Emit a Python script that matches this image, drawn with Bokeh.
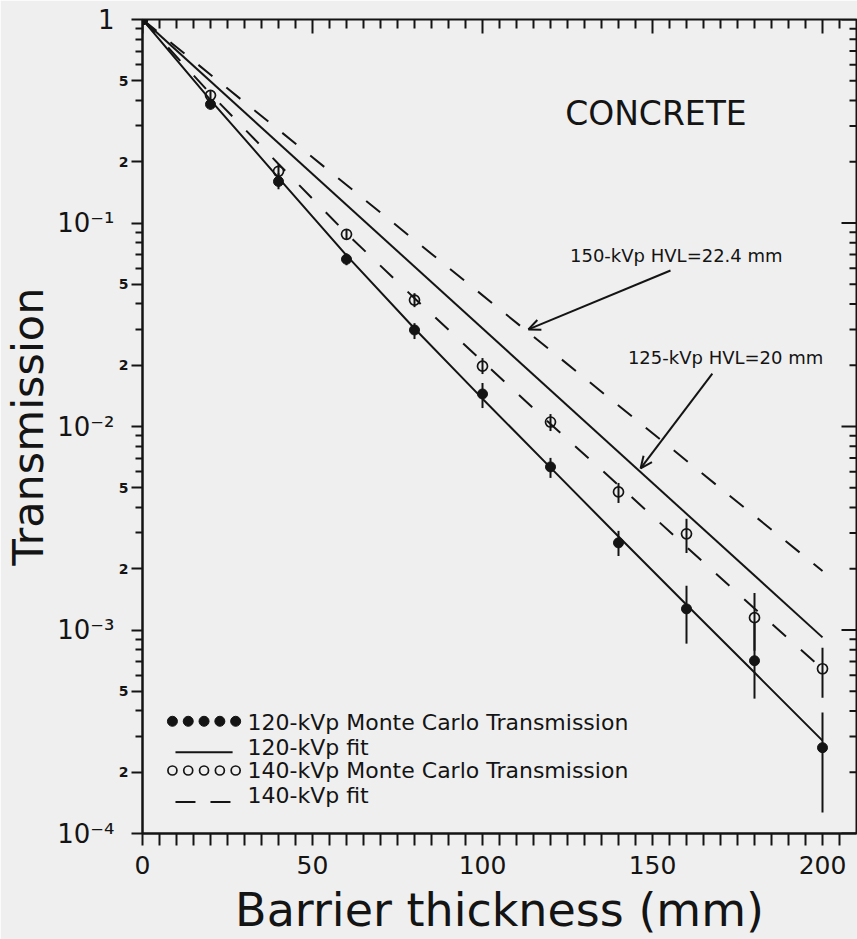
import math
from bokeh.plotting import figure
from bokeh.models import LogAxis, FixedTicker, Range1d
from bokeh.core.properties import value
from bokeh.embed import file_html
from bokeh.resources import INLINE

# ---------------- data ----------------
thickness = [0, 20, 40, 60, 80, 100, 120, 140, 160, 180, 200]

mc120 = [1.0, 0.383, 0.160, 0.0664, 0.0298, 0.01445, 0.00633, 0.00268, 0.00127, 0.000706, 0.000264]
mc120_lo = [1.0, 0.3617, 0.1464, 0.0620, 0.0269, 0.01232, 0.00559, 0.00231, 0.000857, 0.00046, 0.000127]
mc120_hi = [1.0, 0.405, 0.1754, 0.0710, 0.0322, 0.01636, 0.00701, 0.00307, 0.00165, 0.001086, 0.000393]

mc140 = [1.0, 0.424, 0.1795, 0.088, 0.0418, 0.0198, 0.01052, 0.00477, 0.00297, 0.00115, 0.000645]
mc140_lo = [1.0, 0.4005, 0.1677, 0.0832, 0.0386, 0.0181, 0.0095, 0.00421, 0.00239, 0.000791, 0.000465]
mc140_hi = [1.0, 0.448, 0.1942, 0.0932, 0.0452, 0.02169, 0.01151, 0.00528, 0.00352, 0.00152, 0.000818]

fit_x = [0, 20, 40, 60, 80, 100, 120, 140, 160, 180, 200]
fit120 = [1.0, 0.402, 0.1667, 0.0693, 0.0303, 0.0137, 0.00628, 0.00288, 0.00133, 0.000618, 0.000286]
fit140 = [1.0, 0.4315, 0.195, 0.0889, 0.0427, 0.0209, 0.01028, 0.00515, 0.00256, 0.001276, 0.000643]

hvl_x = [0, 200]
hvl125 = [1.0, 0.00092]     # 125-kVp HVL=20 mm
hvl150 = [1.0, 0.00195]     # 150-kVp HVL=22.4 mm

x_major_ticks = [0, 50, 100, 150, 200]
x_major_labels = ["0", "50", "100", "150", "200"]
x_minor_ticks = [5, 10, 15, 20, 25, 30, 35, 40, 45, 55, 60, 65, 70, 75, 80, 85, 90, 95,
                 105, 110, 115, 120, 125, 130, 135, 140, 145, 155, 160, 165, 170, 175,
                 180, 185, 190, 195, 205]
y_major_ticks = [1e-4, 1e-3, 1e-2, 1e-1, 1.0]
y_major_labels = ["10\u207b\u2074", "10\u207b\u00b3", "10\u207b\u00b2", "10\u207b\u00b9", "1"]
y_small_ticks = [0.5, 0.2, 0.05, 0.02, 0.005, 0.002, 0.0005, 0.0002]
y_small_labels = ["5", "2", "5", "2", "5", "2", "5", "2"]
y_plain_minor = [3e-1, 4e-1, 6e-1, 7e-1, 8e-1, 9e-1, 3e-2, 4e-2, 6e-2, 7e-2, 8e-2, 9e-2,
                 3e-3, 4e-3, 6e-3, 7e-3, 8e-3, 9e-3, 3e-4, 4e-4, 6e-4, 7e-4, 8e-4, 9e-4]

legend_labels = ["120-kVp Monte Carlo Transmission", "120-kVp fit",
                 "140-kVp Monte Carlo Transmission", "140-kVp fit"]

# ---------------- style ----------------
INK = "#141414"
BG = "#efefef"
FONT = "DejaVu Sans"
W, H = 857, 939
B_LEFT, B_RIGHT, B_TOP, B_BOTTOM = 142, 1, 19, 106
X_MAX = 210
PX_PER_MM = (W - B_LEFT - B_RIGHT) / X_MAX
PX_PER_DEC = (H - B_TOP - B_BOTTOM) / 4.0

p = figure(width=W, height=H, x_range=Range1d(0, X_MAX), y_range=Range1d(1e-4, 1),
           y_axis_type="log", output_backend="svg", toolbar_location=None,
           min_border_left=B_LEFT, min_border_right=B_RIGHT, min_border_top=B_TOP,
           min_border_bottom=B_BOTTOM, background_fill_color=BG, border_fill_color=BG)
p.grid.visible = False
p.outline_line_color = INK
p.outline_line_width = 2


def style_axis(ax, t_out, m_out):
    ax.axis_line_color = INK
    ax.axis_line_width = 2
    ax.major_tick_line_color = INK
    ax.major_tick_line_width = 2
    ax.minor_tick_line_color = INK
    ax.minor_tick_line_width = 2
    ax.major_tick_in = 0
    ax.major_tick_out = t_out
    ax.minor_tick_in = 0
    ax.minor_tick_out = m_out
    ax.major_label_text_color = INK
    ax.major_label_text_font = FONT
    ax.axis_label_text_color = INK
    ax.axis_label_text_font = FONT
    ax.axis_label_text_font_style = "normal"


# bottom axis: every 5-mm tick drawn, labels only every 50 mm
bx = p.xaxis[0]
bx.ticker = FixedTicker(ticks=sorted(x_major_ticks + x_minor_ticks), minor_ticks=[])
style_axis(bx, 12, 0)
xo = {t: " " for t in x_minor_ticks}
xo.update(dict(zip(x_major_ticks, x_major_labels)))
bx.major_label_overrides = xo
bx.major_label_text_font_size = "25px"
bx.major_label_standoff = 5
bx.axis_label = "Barrier thickness (mm)"
bx.axis_label_text_font_size = "46px"
bx.axis_label_standoff = 0

# inner left axis: all ticks, small "5"/"2" labels
ly = p.yaxis[0]
ly.ticker = FixedTicker(ticks=y_major_ticks + y_small_ticks, minor_ticks=y_plain_minor)
style_axis(ly, 11, 7)
yo = {t: " " for t in y_major_ticks}
yo.update(dict(zip(y_small_ticks, y_small_labels)))
ly.major_label_overrides = yo
ly.major_label_text_font_size = "14px"
ly.major_label_text_font_style = "bold"
ly.major_label_standoff = 3

# outer left axis: decade labels and the axis title (no line, no ticks)
oy = LogAxis(ticker=FixedTicker(ticks=y_major_ticks, minor_ticks=[]))
style_axis(oy, 0, 0)
oy.axis_line_color = None
oy.major_tick_line_color = None
oy.minor_tick_line_color = None
oy.major_label_overrides = dict(zip(y_major_ticks, y_major_labels))
oy.major_label_text_font_size = "26px"
oy.major_label_standoff = 1
oy.axis_label = "Transmission"
oy.axis_label_text_font_size = "43px"
oy.axis_label_standoff = 1
p.add_layout(oy, "left")

# invisible placeholder renderer (keeps the first real glyph layer intact in SVG output)
p.scatter([0], [1.0], size=1, fill_alpha=0, line_alpha=0)

# ---------------- curves ----------------
p.line(hvl_x, hvl150, line_color=INK, line_width=2, line_dash="18 18")
p.line(hvl_x, hvl125, line_color=INK, line_width=2)
p.line(fit_x, fit140, line_color=INK, line_width=2, line_dash="18 20")
p.line(fit_x, fit120, line_color=INK, line_width=2)

p.segment(x0=thickness, y0=mc140_lo, x1=thickness, y1=mc140_hi, line_color=INK, line_width=2)
p.segment(x0=thickness, y0=mc120_lo, x1=thickness, y1=mc120_hi, line_color=INK, line_width=2)

p.scatter(thickness, mc140, marker="circle", size=10, fill_color=None,
          line_color=INK, line_width=1.7)
p.scatter(thickness, mc120, marker="circle", size=10, fill_color=INK, line_color=INK)

# ---------------- in-plot texts (text glyphs) ----------------
p.text(x=[151], y=[0.345], text=["CONCRETE"], text_align="center", text_baseline="middle",
       text_font=value(FONT), text_font_size="33px", text_color=INK)
p.text(x=[157, 171.5], y=[0.0692, 0.0218],
       text=["150-kVp HVL=22.4 mm", "125-kVp HVL=20 mm"],
       text_align="center", text_baseline="middle", text_font=value(FONT),
       text_font_size="18px", text_color=INK)


# ---------------- arrows (shaft + open head) ----------------
def arrow(xs, ys, xe, ye, head_len=13.0, head_ang=math.radians(24)):
    dx = (xe - xs) * PX_PER_MM
    dy = (math.log10(ye) - math.log10(ys)) * PX_PER_DEC
    n = math.hypot(dx, dy)
    ux, uy = -dx / n, -dy / n
    hx, hy = [], []
    for s in (1, -1):
        c, sn = math.cos(s * head_ang), math.sin(s * head_ang)
        rx, ry = ux * c - uy * sn, ux * sn + uy * c
        hx.append(xe + head_len * rx / PX_PER_MM)
        hy.append(ye * 10 ** (head_len * ry / PX_PER_DEC))
    p.segment(x0=[xs, xe, xe], y0=[ys, ye, ye], x1=[xe] + hx, y1=[ye] + hy,
              line_color=INK, line_width=2)


arrow(155.3, 0.0584, 113.5, 0.0300)
arrow(167.6, 0.0182, 146.5, 0.00622)

# ---------------- hand-drawn legend (bottom-left, inside frame) ----------------
LEG_X0, LEG_X1 = 8.8, 27.4          # symbol span (mm)
LEG_TX = 30.9                       # text start (mm)
row_sym_y = [3.56e-4, 2.51e-4, 2.04e-4, 1.43e-4]
row_txt_y = [3.51e-4, 2.64e-4, 2.04e-4, 1.54e-4]
dot_x = [LEG_X0 + i * (LEG_X1 - LEG_X0) / 4 for i in range(5)]

p.scatter(dot_x, [row_sym_y[0]] * 5, marker="circle", size=10, fill_color=INK, line_color=INK)
p.line([LEG_X0 + 0.9, LEG_X1 - 0.9], [row_sym_y[1]] * 2, line_color=INK, line_width=2)
p.scatter(dot_x, [row_sym_y[2]] * 5, marker="circle", size=9, fill_color=None,
          line_color=INK, line_width=1.7)
p.line([LEG_X0 + 0.9, LEG_X1 - 0.9], [row_sym_y[3]] * 2, line_color=INK, line_width=2,
       line_dash="20 15")
p.text(x=[LEG_TX] * 4, y=row_txt_y, text=legend_labels, text_align="left",
       text_baseline="middle", text_font=value(FONT), text_font_size="22px", text_color=INK)

# ---------------- inward ticks along the top and right edges of the frame ----------------
TOP_MAJ, TOP_MIN, RIGHT_MAJ, RIGHT_MIN = 14, 9, 15, 7
right_y = y_major_ticks + y_small_ticks + y_plain_minor
right_len = ([RIGHT_MAJ] * len(y_major_ticks)
             + [RIGHT_MIN] * (len(y_small_ticks) + len(y_plain_minor)))
p.segment(x0=[X_MAX] * len(right_y), y0=right_y,
          x1=[X_MAX - L / PX_PER_MM for L in right_len], y1=list(right_y),
          line_color=INK, line_width=2)
top_x = x_major_ticks + x_minor_ticks
top_len = [TOP_MAJ] * len(x_major_ticks) + [TOP_MIN] * len(x_minor_ticks)
p.segment(x0=top_x, y0=[0.9999] * len(top_x), x1=list(top_x),
          y1=[10 ** (-L / PX_PER_DEC) for L in top_len], line_color=INK, line_width=2)

open("out.html", "w").write(file_html(p, INLINE))
